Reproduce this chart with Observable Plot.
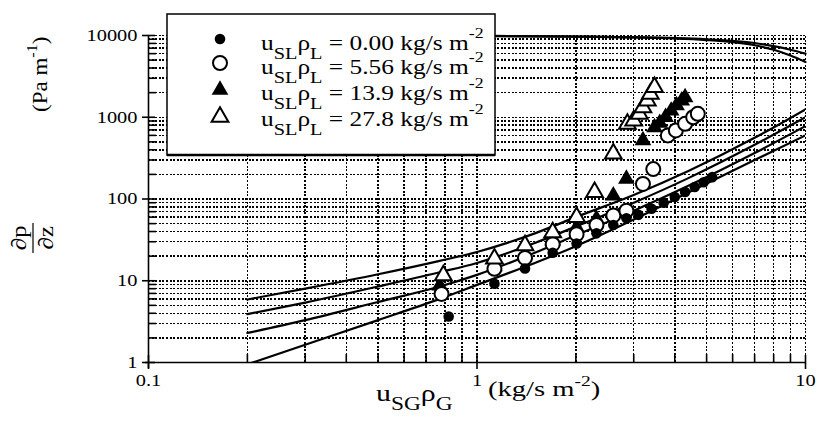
<!DOCTYPE html>
<html>
<head>
<meta charset="utf-8">
<script src="https://cdn.jsdelivr.net/npm/d3@7"></script>
<script src="https://cdn.jsdelivr.net/npm/@observablehq/plot@0.6"></script>
<style>
  html, body { margin: 0; padding: 0; background: #fff; }
  #chart { position: relative; width: 819px; height: 423px; }
  #chart svg { position: absolute; left: 0; top: 0; }
</style>
</head>
<body>
<div id="chart"></div>
<script>
// Model curves: pressure gradient vs gas mass flux
const lineX  = [0.2, 0.3, 0.5, 0.77, 1, 1.5, 2, 3, 4.4, 7, 10];
const modelA = [5.9, 8.0, 12, 17.5, 22.5, 38, 60, 112, 220, 560, 1250];
const modelB = [3.9, 5.4, 8.5, 12.7, 16.5, 29, 46, 90, 180, 460, 1000];
const modelC = [2.3, 3.3, 5.5, 8.5, 11.8, 22, 36, 72, 145, 365, 780];
const modelD = [0.95, 1.65, 3.3, 6.0, 8.9, 16.5, 26.5, 56, 120, 300, 600];

// Upper pair of curves near 10^4
const topX     = [0.2, 0.5, 1, 2, 3, 4, 5, 6, 7, 8, 9, 10];
const topUpper = [10000, 10000, 9900, 9700, 9500, 9300, 9000, 8600, 8100, 7400, 6700, 6000];
const topLower = [10000, 10000, 9900, 9700, 9500, 9200, 8800, 8300, 7600, 6700, 5700, 4750];

// Measurements, one pair of arrays per liquid mass flux
const liq000X = [0.82, 1.13, 1.40, 1.70, 2.01, 2.31, 2.6, 2.85, 3.1, 3.4, 3.7, 4.0, 4.3, 4.6, 4.9, 5.2];
const liq000Y = [3.65, 9.2, 14.1, 22, 28.5, 38, 48, 58, 64, 76, 90, 106, 122, 140, 160, 185];
const liq556X = [0.78, 1.13, 1.40, 1.70, 2.01, 2.31, 2.6, 2.85, 3.2, 3.44, 3.81, 4.03, 4.3, 4.55, 4.7];
const liq556Y = [6.9, 14, 19, 28, 37, 48, 63, 72, 153, 232, 600, 690, 830, 1000, 1100];
const liq139X = [0.77, 1.13, 1.40, 1.70, 2.01, 2.31, 2.6, 2.85, 3.2, 3.47, 3.6, 3.75, 3.9, 4.05, 4.2, 4.3];
const liq139Y = [8.7, 15, 21, 31, 45, 57, 110, 176, 520, 750, 850, 1000, 1200, 1400, 1600, 1750];
const liq278X = [0.79, 1.13, 1.40, 1.70, 2.01, 2.28, 2.6, 2.87, 3.0, 3.12, 3.2, 3.3, 3.37, 3.47];
const liq278Y = [11.6, 18.6, 27, 39, 60, 121, 358, 830, 910, 1100, 1320, 1600, 1930, 2330];

const legendValues = ["0.00", "5.56", "13.9", "27.8"];
const xTickLabels = [0.1, 1, 10];
const yTickLabels = [1, 10, 100, 1000, 10000];

const pairs = (xs, ys) => xs.map((x, i) => ({x, y: ys[i]}));

// logarithmic grid positions: 2..9 within each decade plus the decades
const gridX = [];
for (const dec of [0.1, 1]) for (let k = 2; k <= 10; k++) gridX.push(+(k * dec).toPrecision(3));
const gridY = [];
for (const dec of [1, 10, 100, 1000]) for (let k = 2; k <= 10; k++) gridY.push(k * dec);
const minorX = gridX.filter(v => !xTickLabels.includes(v));
const minorY = gridY.filter(v => !yTickLabels.includes(v));

const ink = "#000";
const curve = (ys, extra = {}) =>
  Plot.line(pairs(lineX, ys), {x: "x", y: "y", curve: "monotone-x", stroke: ink, strokeWidth: 2.2, clip: true, ...extra});
const dotted = {stroke: ink, strokeWidth: 1.5, strokeDasharray: "2,1.6", shapeRendering: "crispEdges"};

const plot = Plot.plot({
  width: 819,
  height: 423,
  marginLeft: 148,
  marginRight: 14,
  marginTop: 35,
  marginBottom: 61,
  x: {type: "log", domain: [0.1, 10], axis: null},
  y: {type: "log", domain: [1, 10000], axis: null},
  style: {fontFamily: '"Liberation Serif", serif', fontSize: "17px", background: "#fff", color: ink},
  marks: [
    // dotted grid
    Plot.ruleX(gridX, {x: d => d, y1: 1, y2: 10000, ...dotted}),
    Plot.ruleY(gridY, {y: d => d, x1: 0.1, x2: 10, ...dotted}),
    // axis lines
    Plot.ruleY([1], {y: d => d, x1: 0.1, x2: 10, insetLeft: -3, stroke: ink, strokeWidth: 1.6}),
    Plot.ruleX([0.1], {x: d => d, y1: 10000, y2: 1, insetBottom: -6, stroke: ink, strokeWidth: 1.6}),
    // minor ticks point inward, major ticks cross the axis
    Plot.ruleX(minorX, {x: d => d, y1: 1, y2: 1, insetTop: -8, stroke: ink, strokeWidth: 1.6}),
    Plot.ruleX(xTickLabels, {x: d => d, y1: 1, y2: 1, insetTop: -7, insetBottom: -7, stroke: ink, strokeWidth: 1.6}),
    Plot.ruleY(minorY, {y: d => d, x1: 0.1, x2: 0.1, insetRight: -8, stroke: ink, strokeWidth: 1.6}),
    Plot.ruleY(yTickLabels, {y: d => d, x1: 0.1, x2: 0.1, insetLeft: -6, insetRight: -7, stroke: ink, strokeWidth: 1.6}),
    // tick labels
    Plot.text(xTickLabels, {x: d => d, y: () => 1, dy: 18, text: d => String(d), fontSize: 17, fill: ink}),
    Plot.text(yTickLabels, {x: () => 0.1, y: d => d, dx: -11, textAnchor: "end", text: d => String(d), fontSize: 17, fill: ink}),
    // model curves
    curve(modelA), curve(modelB), curve(modelC), curve(modelD),
    Plot.line(pairs(topX, topUpper), {x: "x", y: "y", curve: "monotone-x", stroke: ink, strokeWidth: 2.2}),
    Plot.line(pairs(topX, topLower), {x: "x", y: "y", curve: "monotone-x", stroke: ink, strokeWidth: 2.2}),
    // measurements
    Plot.dot(pairs(liq139X, liq139Y), {x: "x", y: "y", symbol: "triangle", r: 6.2, fill: ink}),
    Plot.dot(pairs(liq556X, liq556Y), {x: "x", y: "y", symbol: "circle", r: 7, fill: "#fff", stroke: ink, strokeWidth: 2}),
    Plot.dot(pairs(liq000X, liq000Y), {x: "x", y: "y", symbol: "circle", r: 5.3, fill: ink}),
    Plot.dot(pairs(liq278X, liq278Y), {x: "x", y: "y", symbol: "triangle", r: 6.2, fill: "#fff", stroke: ink, strokeWidth: 2})
  ]
});

// widen the tick-label glyphs a little, keeping their anchor points
d3.select(plot).selectAll('g[aria-label="text"] text').each(function () {
  const t = this.getAttribute("transform");
  if (t) {
    this.setAttribute("transform", t + " scale(1.2,1)");
  } else {
    const x = +this.getAttribute("x") || 0, y = +this.getAttribute("y") || 0;
    this.removeAttribute("x"); this.removeAttribute("y");
    this.setAttribute("transform", `translate(${x},${y}) scale(1.2,1)`);
  }
});

const chart = document.getElementById("chart");
chart.appendChild(plot);

// Titles and legend drawn on top of the plot
const ov = d3.select(chart).append("svg")
  .attr("width", 819).attr("height", 423)
  .style("font-family", '"Liberation Serif", serif')
  .style("pointer-events", "none");

function richText(parent, x, y, parts, size, sx, rotate = 0) {
  const t = parent.append("text")
    .attr("transform", `translate(${x},${y})${rotate ? ` rotate(${rotate})` : ""} scale(${sx},1)`)
    .attr("font-size", size).attr("fill", ink).style("white-space", "pre");
  let shift = 0;
  for (const p of parts) {
    const target = p.sub ? p.sub : p.sup ? -p.sup : 0;
    t.append("tspan").attr("dy", target - shift).attr("font-size", p.size || size).text(p.t);
    shift = target;
  }
  return t;
}

// legend
const lg = ov.append("g");
lg.append("rect").attr("x", 167).attr("y", 14).attr("width", 328).attr("height", 141)
  .attr("fill", "#fff").attr("stroke", ink).attr("stroke-width", 1.5);
lg.append("line").attr("x1", 167).attr("x2", 495).attr("y1", 155).attr("y2", 155)
  .attr("stroke", ink).attr("stroke-width", 2.5);
const legendSymbols = [
  {symbol: d3.symbolCircle, r: 5.3, fill: ink, stroke: "none"},
  {symbol: d3.symbolCircle, r: 7, fill: "#fff", stroke: ink},
  {symbol: d3.symbolTriangle, r: 6.2, fill: ink, stroke: "none"},
  {symbol: d3.symbolTriangle, r: 6.2, fill: "#fff", stroke: ink}
];
const rowMarkY = [39, 63, 90, 117];
const rowBase = [50, 74, 100, 126];
legendValues.forEach((v, i) => {
  const s = legendSymbols[i];
  lg.append("path")
    .attr("transform", `translate(220,${rowMarkY[i]})`)
    .attr("d", d3.symbol(s.symbol, Math.PI * s.r * s.r)())
    .attr("fill", s.fill).attr("stroke", s.stroke).attr("stroke-width", 2);
  richText(lg, 261, rowBase[i], [
    {t: "u"}, {t: "SL", sub: 9, size: 16}, {t: "ρ"}, {t: "L", sub: 9, size: 16},
    {t: ` = ${v} kg/s m`}, {t: "-2", sup: 12, size: 14}
  ], 20, 1.27);
});

// x-axis title
richText(ov, 376, 401, [{t: "u"}, {t: "SG", sub: 9, size: 18}, {t: "ρ"}, {t: "G", sub: 9, size: 18}], 23, 1.3);
richText(ov, 488, 396, [{t: "(kg/s m"}, {t: "-2", sup: 10, size: 15}, {t: ")"}], 22, 1.3);

// y-axis title: the derivative as a stacked fraction, and its unit
const fr = ov.append("g").attr("transform", "translate(33,238) rotate(-90)");
fr.append("text").attr("x", 0).attr("y", -7).attr("text-anchor", "middle").attr("font-size", 21)
  .attr("transform", "scale(1.2,1)").attr("fill", ink).text("∂p");
fr.append("line").attr("x1", -15).attr("x2", 15).attr("y1", 0).attr("y2", 0).attr("stroke", ink).attr("stroke-width", 1.2);
fr.append("text").attr("x", 0).attr("y", 20).attr("text-anchor", "middle").attr("font-size", 21)
  .attr("transform", "scale(1.2,1)").attr("fill", ink).text("∂z");
richText(ov, 47, 112, [{t: "(Pa m"}, {t: "-1", sup: 10, size: 14}, {t: ")"}], 20, 1.15, -90);
</script>
</body>
</html>
